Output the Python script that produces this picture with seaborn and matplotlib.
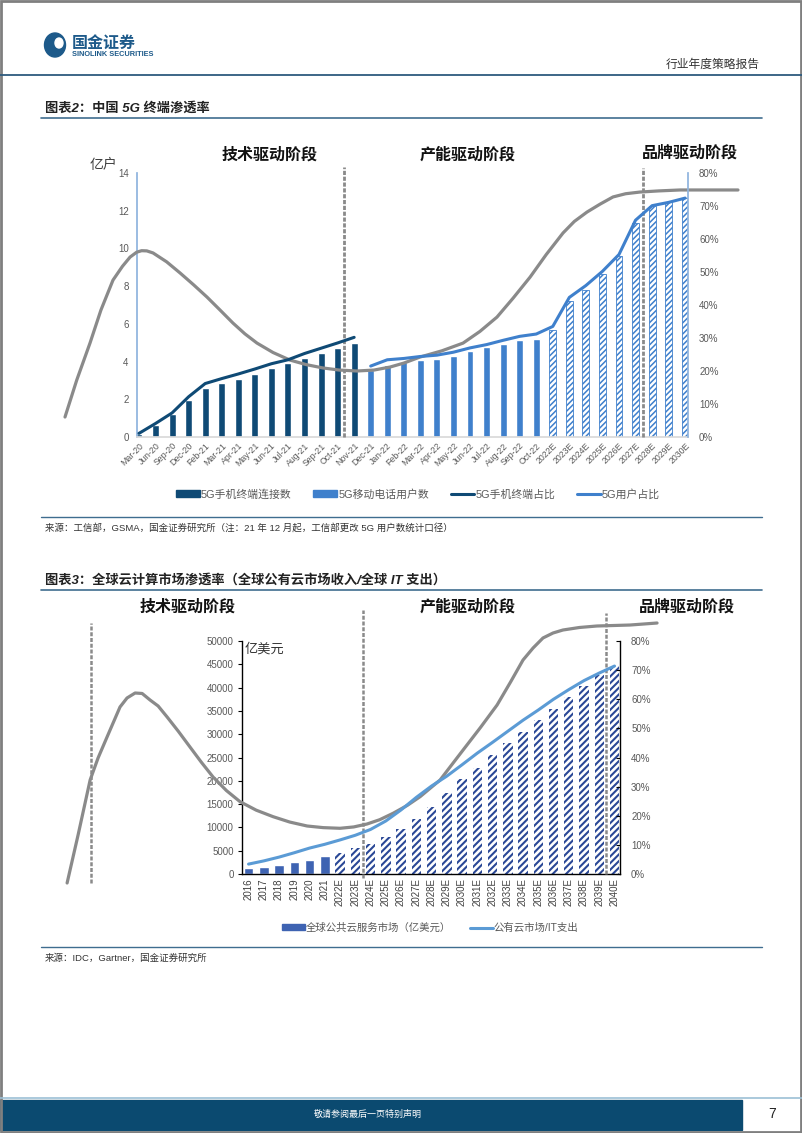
import matplotlib
matplotlib.use("Agg")
import matplotlib.pyplot as plt
from matplotlib.patches import Rectangle, Ellipse, Patch
from matplotlib.lines import Line2D
import numpy as np
import pandas as pd
import seaborn as sns

# ---------------------------------------------------------------------------
# Chart 1: China 5G terminal penetration
# ---------------------------------------------------------------------------
cats1 = ["Mar-20", "Jun-20", "Sep-20", "Dec-20", "Feb-21", "Mar-21", "Apr-21",
         "May-21", "Jun-21", "Jul-21", "Aug-21", "Sep-21", "Oct-21", "Nov-21",
         "Dec-21", "Jan-22", "Feb-22", "Mar-22", "Apr-22", "May-22", "Jun-22",
         "Jul-22", "Aug-22", "Sep-22", "Oct-22", "2022E", "2023E", "2024E",
         "2025E", "2026E", "2027E", "2028E", "2029E", "2030E"]
terminal_conn = [0.18, 0.62, 1.24, 1.98, 2.62, 2.84, 3.10, 3.33, 3.67, 3.94,
                 4.20, 4.45, 4.72, 5.00]                       # 亿户, Mar-20..Nov-21
users_actual = [3.55, 3.82, 3.97, 4.06, 4.13, 4.28, 4.58, 4.75, 4.93, 5.12, 5.21]
users_forecast = [5.65, 7.19, 7.81, 8.67, 9.58, 11.34, 12.23, 12.44, 12.67]
terminal_share = [1.1, 4.1, 7.3, 12.2, 16.2, 17.7, 19.1, 20.6, 22.2, 23.4,
                  25.3, 26.9, 28.5, 30.2]                      # %
user_share = [21.5, 23.4, 23.8, 24.4, 24.8, 25.7, 27.0, 28.0, 29.3, 30.5,
              31.2, 33.5, 42.3, 45.9, 50.2, 55.3, 65.7, 70.1, 71.1, 72.4]
# illustrative life-cycle curve (category index, 亿户 units)
curve1_x = [-4.47, -3.76, -2.96, -2.30, -1.57, -1.0, -0.54, -0.14, 0.16, 0.47,
            0.85, 1.67, 2.48, 3.3, 4.11, 4.9, 5.68, 6.4, 7.13, 8.1, 9.12,
            10.1, 11.12, 12.1, 13.17, 14.2, 15.17, 16.0, 16.98, 18.3, 19.58,
            20.6, 21.63, 22.6, 23.63, 24.6, 25.62, 26.3, 27.07, 27.86, 28.64,
            29.4, 30.27, 31.4, 32.69, 34.5, 36.19]
curve1_y = [1.06, 3.02, 4.98, 6.73, 8.32, 9.05, 9.54, 9.80, 9.88, 9.87, 9.76,
            9.29, 8.70, 8.07, 7.42, 6.73, 6.04, 5.47, 4.98, 4.48, 4.08, 3.84,
            3.66, 3.55, 3.50, 3.55, 3.71, 3.92, 4.24, 4.57, 4.98, 5.60, 6.36,
            7.36, 8.48, 9.67, 10.82, 11.43, 11.93, 12.35, 12.73, 12.90, 12.99,
            13.05, 13.10, 13.10, 13.10]
stage_div1 = [12.4, 30.45]
stage_top1 = [14.33, 14.26]

# ---------------------------------------------------------------------------
# Chart 2: global cloud market penetration
# ---------------------------------------------------------------------------
cats2 = ["2016", "2017", "2018", "2019", "2020", "2021"] + \
        [f"{y}E" for y in range(2022, 2041)]
cloud_actual = [1216, 1570, 1930, 2500, 3080, 3860]            # 亿美元
cloud_forecast = [4580, 5650, 6510, 7940, 9730, 11830, 14430, 17370, 20380,
                  22830, 25520, 28160, 30520, 32950, 35480, 37950, 40240,
                  42600, 44600]
cloud_share = [3.4, 4.5, 5.8, 7.3, 8.9, 10.2, 11.7, 13.3, 15.3, 18.2, 22.0,
               26.3, 30.2, 33.6, 37.5, 41.5, 45.2, 49.0, 52.8, 56.3, 60.0,
               63.3, 66.4, 69.0, 71.4]                         # %
curve2_x = [-11.90, -11.18, -10.39, -9.87, -9.28, -8.43, -7.97, -7.44, -6.98,
            -6.46, -5.93, -5.34, -4.6, -3.84, -3.1, -2.33, -1.45, -0.56, 0.5,
            1.61, 2.7, 3.84, 4.9, 6.0, 6.9, 7.77, 8.6, 9.48, 10.4, 11.25,
            12.56, 14.07, 15.2, 16.30, 17.2, 18.0, 18.66, 19.31, 19.97, 20.62,
            21.7, 22.85, 25.02, 26.79]
curve2_y = [-1930, 8370, 20170, 24890, 29400, 35840, 37770, 38840, 38740,
            37340, 36050, 33690, 30600, 27250, 24000, 20820, 17900, 15520,
            13700, 12300, 11150, 10300, 9950, 9810, 10100, 10730, 11650,
            13030, 14700, 16590, 20170, 26610, 31400, 36270, 41300, 45920,
            48500, 50650, 51720, 52360, 52900, 53220, 53430, 53860]
stage_div2 = [-10.33, 7.5, 23.45]
stage_bot2 = [-1930, -860, 0]
stage_top2 = [53860, 56650, 56000]

stages = ["技术驱动阶段", "产能驱动阶段", "品牌驱动阶段"]

DARK = "#0f4a75"
LIGHT = "#3f80cc"
MID = "#3e63b2"
HATCH2 = "#2a4896"
LINE2 = "#5b9bd5"
GREY = "#8a8a8a"
TXT = "#595959"
NAVY = "#1d5a8a"

sns.set_theme(style="white")
plt.rcParams["font.family"] = ["Liberation Sans", "Noto Sans CJK SC", "DejaVu Sans"]
plt.rcParams["hatch.linewidth"] = 1.1
plt.rcParams["axes.unicode_minus"] = False

W, H = 802, 1133
fig = plt.figure(figsize=(W / 100, H / 100), dpi=100)
fig.patch.set_facecolor("white")


def fx(x):
    return x / W


def fy(y):
    return 1 - y / H


def axes_px(x0, y0, x1, y1):
    return fig.add_axes([fx(x0), fy(y1), (x1 - x0) / W, (y1 - y0) / H])


def hline(x0, x1, y, color, lw):
    fig.add_artist(Line2D([fx(x0), fx(x1)], [fy(y), fy(y)], color=color, lw=lw,
                          transform=fig.transFigure))


def ftext(x, y, s, **kw):
    fig.text(fx(x), fy(y), s, **kw)


# ---------------------------------------------------------------------------
# page decoration
# ---------------------------------------------------------------------------
fig.add_artist(Ellipse((fx(55), fy(45)), 21 / W, 24 / H, color=NAVY,
                       transform=fig.transFigure))
fig.add_artist(Ellipse((fx(59), fy(43)), 8 / W, 10 / H, color="white",
                       transform=fig.transFigure))
ftext(72, 43, "国金证券", fontsize=11.5, fontweight="bold", color=NAVY, va="center")
ftext(72, 54, "SINOLINK SECURITIES", fontsize=5.3, fontweight="bold", color=NAVY,
      va="center")
ftext(760, 65, "行业年度策略报告", fontsize=8.5, color="#333333", ha="right",
      va="center")
hline(0, 802, 75, "#2d5b7e", 1.3)

ftext(45, 108, "图表2：中国 5G 终端渗透率", fontsize=9.5, fontweight="bold",
      color="#222222", va="center", style="italic")
hline(41, 762, 118, "#3f6d8f", 1.2)
hline(41, 762, 517, "#3f6d8f", 1.0)
ftext(45, 528, "来源：工信部，GSMA，国金证券研究所（注：21 年 12 月起，工信部更改 5G 用户数统计口径）",
      fontsize=6.8, color="#333333", va="center")

ftext(45, 580, "图表3：全球云计算市场渗透率（全球公有云市场收入/全球 IT 支出）",
      fontsize=9.5, fontweight="bold", color="#222222", va="center", style="italic")
hline(41, 762, 590, "#3f6d8f", 1.2)
hline(41, 762, 947, "#3f6d8f", 1.0)
ftext(45, 958, "来源：IDC，Gartner，国金证券研究所", fontsize=6.8, color="#333333",
      va="center")

hline(0, 802, 1098, "#9cc0d6", 1.2)
fig.add_artist(Rectangle((0, fy(1130)), fx(742), (1130 - 1100) / H,
                         color="#0b4a70", transform=fig.transFigure))
ftext(368, 1114, "敬请参阅最后一页特别声明", fontsize=6.5, color="white",
      ha="center", va="center")
ftext(772, 1114, "7", fontsize=10, color="#222222", ha="center", va="center")
fig.add_artist(Rectangle((0.001, 0.001), 0.998, 0.998, fill=False, ec="#7f7f7f",
                         lw=2, transform=fig.transFigure))

# ---------------------------------------------------------------------------
# chart 1
# ---------------------------------------------------------------------------
n_conn = len(terminal_conn)
n_act = len(users_actual)
df1 = pd.DataFrame({
    "cat": cats1,
    "val": terminal_conn + users_actual + users_forecast,
    "kind": ["conn"] * n_conn + ["user"] * n_act + ["fc"] * len(users_forecast),
})
ax1 = axes_px(137, 173, 688, 437)
sns.barplot(data=df1, x="cat", y="val", hue="kind", order=cats1,
            hue_order=["conn", "user", "fc"],
            palette={"conn": DARK, "user": LIGHT, "fc": "white"},
            dodge=False, width=0.42, saturation=1, legend=False, ax=ax1, zorder=2)
for p in ax1.containers[2]:
    p.set_hatch("//////")
    p.set_edgecolor(LIGHT)
    p.set_linewidth(0.6)
ax1.plot(curve1_x, curve1_y, color=GREY, lw=2.3, clip_on=False, zorder=4,
         solid_joinstyle="round", solid_capstyle="round")
ax1.vlines(stage_div1, 0, stage_top1, colors=GREY, lw=2.0,
           linestyles=(0, (1.5, 0.6)), clip_on=False, zorder=5)
ax1.set_xlim(-0.12, 33.17)
ax1.set_ylim(0, 14)
ax1.set_yticks(range(0, 15, 2))
ax1.set_xticks(range(len(cats1)))
ax1.set_xticklabels(cats1, rotation=45, ha="right", rotation_mode="anchor",
                    fontsize=6.3, color=TXT)
ax1.tick_params(axis="y", labelsize=7, labelcolor=TXT, length=0, pad=6)
ax1.tick_params(axis="x", length=0, pad=3)
ax1.set_xlabel("")
ax1.set_ylabel("")
for side in ["top", "right"]:
    ax1.spines[side].set_visible(False)
ax1.spines["left"].set_color("#8fb4de")
ax1.spines["bottom"].set_color("#d9d9d9")

ax1r = ax1.twinx()
sns.lineplot(x=np.arange(n_conn), y=terminal_share, color=DARK, lw=2.2, ax=ax1r)
sns.lineplot(x=np.arange(n_conn, len(cats1)), y=user_share, color=LIGHT, lw=2.2,
             ax=ax1r)
ax1r.set_ylim(0, 80)
ax1r.set_yticks(range(0, 81, 10))
ax1r.set_yticklabels([f"{v}%" for v in range(0, 81, 10)])
ax1r.tick_params(axis="y", labelsize=7, labelcolor=TXT, length=0, pad=8)
ax1r.set_ylabel("")
ax1r.set_xlim(-0.12, 33.17)
for side in ["top", "left", "bottom"]:
    ax1r.spines[side].set_visible(False)
ax1r.spines["right"].set_color("#8fb4de")

ftext(103, 165, "亿户", fontsize=10, color="#404040", ha="center", va="center")
for s, (x, y) in zip(stages, [(270, 155), (468, 155), (690, 153)]):
    ftext(x, y, s, fontsize=11.5, fontweight="bold", color="#111111",
          ha="center", va="center")

h1 = [Patch(color=DARK), Patch(color=LIGHT), Line2D([], [], color=DARK, lw=2.2),
      Line2D([], [], color=LIGHT, lw=2.2)]
fig.legend(h1, ["5G手机终端连接数", "5G移动电话用户数", "5G手机终端占比", "5G用户占比"],
           loc="center", bbox_to_anchor=(fx(418), fy(494)), ncol=4, frameon=False,
           fontsize=7.8, handlelength=2.2, handleheight=0.5, handletextpad=0.1,
           columnspacing=2.0, labelcolor=TXT)

# ---------------------------------------------------------------------------
# chart 2
# ---------------------------------------------------------------------------
n_a2 = len(cloud_actual)
df2 = pd.DataFrame({
    "cat": cats2,
    "val": cloud_actual + cloud_forecast,
    "kind": ["act"] * n_a2 + ["fc"] * len(cloud_forecast),
})
ax2 = axes_px(242, 641, 620, 874)
sns.barplot(data=df2, x="cat", y="val", hue="kind", order=cats2,
            hue_order=["act", "fc"], palette={"act": MID, "fc": "white"},
            dodge=False, width=0.62, saturation=1, legend=False, ax=ax2, zorder=2)
for p in ax2.containers[1]:
    p.set_hatch("/////")
    p.set_edgecolor(HATCH2)
    p.set_linewidth(0)
    if hasattr(p, "set_hatch_linewidth"):
        p.set_hatch_linewidth(1.5)
ax2.plot(curve2_x, curve2_y, color=GREY, lw=2.3, clip_on=False, zorder=4,
         solid_joinstyle="round", solid_capstyle="round")
ax2.vlines(stage_div2, stage_bot2, stage_top2, colors=GREY, lw=1.8,
           linestyles=(0, (1.6, 0.7)), clip_on=False, zorder=5)
ax2.set_xlim(-0.43, 24.36)
ax2.set_ylim(0, 50000)
ax2.set_yticks(range(0, 50001, 5000))
ax2.set_xticks(range(len(cats2)))
ax2.set_xticklabels(cats2, rotation=90, fontsize=7, color="#404040")
ax2.tick_params(axis="y", labelsize=7, labelcolor=TXT, length=3, width=0.8,
                color="black", direction="out", left=True, pad=3)
ax2.tick_params(axis="x", length=0, pad=3)
ax2.set_xlabel("")
ax2.set_ylabel("")
ax2.spines["top"].set_visible(False)
ax2.spines["right"].set_visible(False)
for side in ["left", "bottom"]:
    ax2.spines[side].set_color("black")
    ax2.spines[side].set_linewidth(1.0)

ax2r = ax2.twinx()
sns.lineplot(x=np.arange(len(cats2)), y=cloud_share, color=LINE2, lw=2.2, ax=ax2r)
ax2r.set_ylim(0, 80)
ax2r.set_yticks(range(0, 81, 10))
ax2r.set_yticklabels([f"{v}%" for v in range(0, 81, 10)])
ax2r.tick_params(axis="y", labelsize=7, labelcolor=TXT, length=3, width=0.8,
                 color="black", direction="in", right=True, pad=8)
ax2r.set_ylabel("")
ax2r.set_xlim(-0.43, 24.36)
for side in ["top", "left", "bottom"]:
    ax2r.spines[side].set_visible(False)
ax2r.spines["right"].set_color("black")
ax2r.spines["right"].set_linewidth(1.0)

ftext(245, 649, "亿美元", fontsize=9.5, color="#333333", ha="left", va="center")
for s, (x, y) in zip(stages, [(188, 607), (468, 607), (687, 607)]):
    ftext(x, y, s, fontsize=11.5, fontweight="bold", color="#111111",
          ha="center", va="center")

h2 = [Patch(color=MID), Line2D([], [], color=LINE2, lw=2.2)]
fig.legend(h2, ["全球公共云服务市场（亿美元）", "公有云市场/IT支出"],
           loc="center", bbox_to_anchor=(fx(430), fy(928)), ncol=2, frameon=False,
           fontsize=7.5, handlelength=2.2, handleheight=0.5, handletextpad=0.1,
           columnspacing=1.8, labelcolor=TXT)

fig.savefig("out.png", dpi=100)
